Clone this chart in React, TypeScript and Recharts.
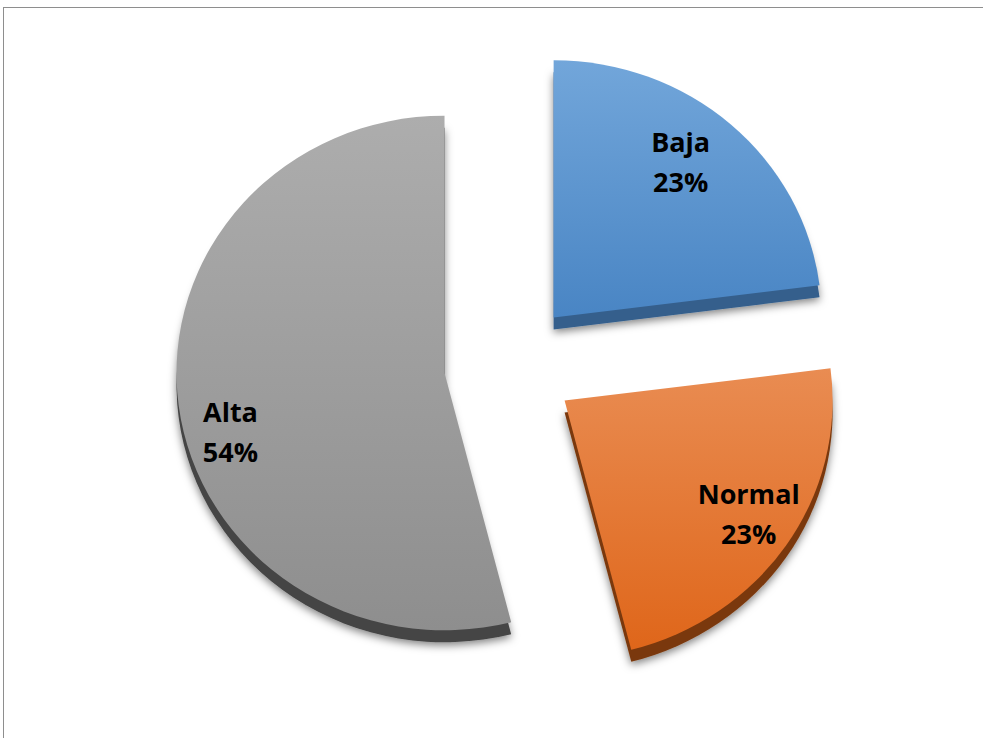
import React from 'react';
import { PieChart, Pie, Cell, Sector } from 'recharts';

const categories = ['Baja', 'Normal', 'Alta'];
const values = [23, 23, 54];

const topColors = ['#72a6da', '#e98c52', '#adadad'];
const bottomColors = ['#4985c4', '#df661a', '#8e8e8e'];
const sideColors = ['#345f8c', '#7a390d', '#454545'];

// small hand tweaks so labels sit where the original put them
const labelNudge: [number, number][] = [[-13, -5], [9, -3], [-4, 32]];

const data = categories.map((name, i) => ({ name, value: values[i] }));

const RAD = Math.PI / 180;
const EXPLODE = 66;
const DEPTH = 12;
const SCALE_Y = 0.96; // slight tilt of the pie

const offset = (midAngle: number) => ({
  dx: EXPLODE * Math.cos(-midAngle * RAD),
  dy: EXPLODE * Math.sin(-midAngle * RAD),
});

const renderSlice = (props: any) => {
  const { cx, cy, midAngle, innerRadius, outerRadius, startAngle, endAngle } = props;
  const name = props.name ?? props.payload?.name;
  const idx = Math.max(0, categories.indexOf(name));
  const { dx, dy } = offset(midAngle);
  const tilt = `translate(0 ${cy}) scale(1 ${SCALE_Y}) translate(0 ${-cy})`;
  return (
    <g>
      <g filter="url(#sliceShadow)" transform={`translate(0 ${DEPTH})`}>
        <g transform={tilt}>
          <Sector
            cx={cx + dx}
            cy={cy + dy}
            innerRadius={innerRadius}
            outerRadius={outerRadius}
            startAngle={startAngle}
            endAngle={endAngle}
            fill={sideColors[idx]}
            stroke="none"
          />
        </g>
      </g>
      <g transform={tilt}>
        <Sector
          cx={cx + dx}
          cy={cy + dy}
          innerRadius={innerRadius}
          outerRadius={outerRadius}
          startAngle={startAngle}
          endAngle={endAngle}
          fill={`url(#grad${idx})`}
          stroke="none"
        />
      </g>
    </g>
  );
};

const renderLabel = (props: any) => {
  const { cx, cy, midAngle, outerRadius, percent, name } = props;
  const idx = Math.max(0, categories.indexOf(name));
  const { dx, dy } = offset(midAngle);
  const r = outerRadius * 0.79;
  const x = cx + dx + r * Math.cos(-midAngle * RAD) + labelNudge[idx][0];
  const y = cy + (dy + r * Math.sin(-midAngle * RAD)) * SCALE_Y + labelNudge[idx][1];
  return (
    <text
      x={x}
      y={y}
      textAnchor="middle"
      fill="#000"
      fontFamily="'Open Sans', sans-serif"
      fontWeight={700}
      fontSize={27}
    >
      <tspan x={x} y={y - 8}>{name}</tspan>
      <tspan x={x} y={y + 32}>{`${Math.round(percent * 100)}%`}</tspan>
    </text>
  );
};

export default function App() {
  return (
    <div style={{ position: 'absolute', left: 0, top: 0, width: 983, height: 738, background: '#fff' }}>
      <div
        style={{
          position: 'absolute',
          left: 3,
          top: 7,
          width: 980,
          height: 731,
          borderTop: '1px solid #8e8e8e',
          borderLeft: '1px solid #8e8e8e',
          boxSizing: 'border-box',
        }}
      />
      <PieChart width={983} height={738} style={{ position: 'absolute', left: 0, top: 0 }}>
        <defs>
          {categories.map((c, i) => (
            <linearGradient key={c} id={`grad${i}`} x1="0" y1="0" x2="0" y2="1">
              <stop offset="0%" stopColor={topColors[i]} />
              <stop offset="100%" stopColor={bottomColors[i]} />
            </linearGradient>
          ))}
          <filter id="sliceShadow" x="-20%" y="-20%" width="140%" height="140%">
            <feDropShadow dx="0" dy="3" stdDeviation="4.5" floodColor="#000" floodOpacity="0.5" />
          </filter>
        </defs>
        <Pie
          data={data}
          dataKey="value"
          nameKey="name"
          cx={505}
          cy={360}
          innerRadius={0}
          outerRadius={268}
          startAngle={90}
          endAngle={-270}
          stroke="none"
          shape={renderSlice}
          label={renderLabel}
          labelLine={false}
          isAnimationActive={false}
        >
          {data.map((d, i) => (
            <Cell key={d.name} fill={bottomColors[i]} />
          ))}
        </Pie>
      </PieChart>
    </div>
  );
}
